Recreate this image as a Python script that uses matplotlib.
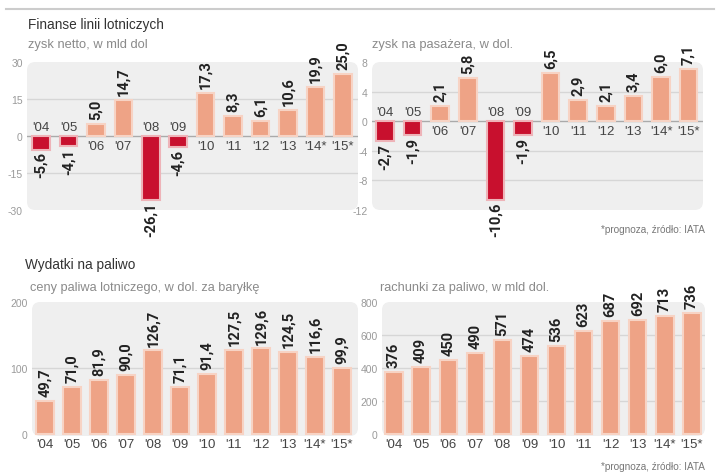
import matplotlib.pyplot as plt
from matplotlib.patches import FancyBboxPatch

# data
years = ["'04", "'05", "'06", "'07", "'08", "'09", "'10", "'11", "'12", "'13", "'14*", "'15*"]
net_profit = [-5.6, -4.1, 5.0, 14.7, -26.1, -4.6, 17.3, 8.3, 6.1, 10.6, 19.9, 25.0]
profit_per_pax = [-2.7, -1.9, 2.1, 5.8, -10.6, -1.9, 6.5, 2.9, 2.1, 3.4, 6.0, 7.1]
fuel_price = [49.7, 71.0, 81.9, 90.0, 126.7, 71.1, 91.4, 127.5, 129.6, 124.5, 116.6, 99.9]
fuel_bill = [376, 409, 450, 490, 571, 474, 536, 623, 687, 692, 713, 736]

# colours / fonts
POS = '#eea386'
POS_EDGE = '#f7d3c4'
NEG = '#c8102e'
NEG_EDGE = '#eeb3b8'
BG = '#efefef'
GRID = '#d6d6d6'
TXT = '#333333'
SUB = '#8a8a8a'
NUMFONT = ['Roboto', 'DejaVu Sans']
plt.rcParams['font.family'] = ['Liberation Sans', 'DejaVu Sans']

W, H = 720, 477
fig = plt.figure(figsize=(7.2, 4.77), dpi=100)


def fmt1(v):
    return f"{v:.1f}".replace('.', ',')


def panel(left, top, right, bottom, c0, step, vals, ylim, yticks, labfmt):
    # axes box in pixels: top/bottom match ylim max/min
    ax = fig.add_axes([left / W, 1 - bottom / H, (right - left) / W, (bottom - top) / H])
    ax.set_xlim((left - c0) / step, (right - c0) / step)
    ax.set_ylim(*ylim)
    ax.patch.set_visible(False)
    for s in ax.spines.values():
        s.set_visible(False)
    bg = FancyBboxPatch((0, 0), 1, 1, boxstyle="round,pad=0,rounding_size=0.025",
                        transform=ax.transAxes, facecolor=BG, edgecolor='none', zorder=0,
                        mutation_aspect=(right - left) / (bottom - top))
    ax.add_patch(bg)
    for t in yticks[1:-1]:
        ax.axhline(t, color=GRID if t != 0 else '#aaaaaa', lw=1, zorder=1)
    ax.set_yticks(yticks)
    ax.set_yticklabels([str(t) for t in yticks])
    ax.tick_params(axis='y', length=0, pad=3, labelsize=7.5, labelcolor='#9a9a9a')
    ax.set_xticks([])

    x = list(range(len(vals)))
    cols = [POS if v >= 0 else NEG for v in vals]
    edges = [POS_EDGE if v >= 0 else NEG_EDGE for v in vals]
    ax.bar(x, vals, width=0.64, color=cols, edgecolor=edges, linewidth=1.5, zorder=2)

    signed = ylim[0] < -1
    for i, v in enumerate(vals):
        txt = labfmt(v)
        if v >= 0:
            ax.annotate(txt, (i, v), xytext=(0, 3.5), textcoords='offset points', rotation=90,
                        ha='center', va='bottom', fontsize=10.5, fontweight='bold',
                        family=NUMFONT, color='#222222')
        else:
            ax.annotate(txt, (i, v), xytext=(0, -1), textcoords='offset points', rotation=90,
                        ha='center', va='top', fontsize=10.5, fontweight='bold',
                        family=NUMFONT, color='#222222')
        if signed:
            if v >= 0:
                ax.annotate(years[i], (i, 0), xytext=(0, -3), textcoords='offset points',
                            ha='center', va='top', fontsize=9.5, color='#444444')
            else:
                ax.annotate(years[i], (i, 0), xytext=(0, 2), textcoords='offset points',
                            ha='center', va='bottom', fontsize=9.5, color='#444444')
        else:
            ax.annotate(years[i], (i, 0), xytext=(0, -7), textcoords='offset points',
                        ha='center', va='top', fontsize=9.5, color='#444444')
    return ax


# top rule
fig.add_artist(plt.Line2D([6 / W, 714 / W], [1 - 10 / H, 1 - 10 / H], color='#cccccc', lw=1.5))

# titles
fig.text(28 / W, 1 - 25 / H, "Finanse linii lotniczych", fontsize=9.8, color=TXT, va='center')
fig.text(28 / W, 1 - 45 / H, "zysk netto, w mld dol", fontsize=9.3, color=SUB, va='center')
fig.text(372 / W, 1 - 45 / H, "zysk na pasażera, w dol.", fontsize=9.3, color=SUB, va='center')
fig.text(705 / W, 1 - 230 / H, "*prognoza, źródło: IATA", fontsize=7.2, color='#777777',
         ha='right', va='center')

fig.text(25 / W, 1 - 265 / H, "Wydatki na paliwo", fontsize=9.8, color=TXT, va='center')
fig.text(30 / W, 1 - 288 / H, "ceny paliwa lotniczego, w dol. za baryłkę", fontsize=9.2,
         color=SUB, va='center')
fig.text(380 / W, 1 - 288 / H, "rachunki za paliwo, w mld dol.", fontsize=9.2, color=SUB,
         va='center')
fig.text(705 / W, 1 - 467 / H, "*prognoza, źródło: IATA", fontsize=7.2, color='#777777',
         ha='right', va='center')

panel(27, 63, 358, 211, 41, 27.45, net_profit, (-30, 30), [-30, -15, 0, 15, 30], fmt1)
panel(372, 63, 703, 211, 385, 27.6, profit_per_pax, (-12, 8), [-12, -8, -4, 0, 4, 8], fmt1)
panel(32, 303, 358, 437, 45, 27, fuel_price, (-3, 200), [0, 100, 200], fmt1)
panel(382, 303, 705, 437, 394, 27.09, fuel_bill, (-12, 800), [0, 200, 400, 600, 800],
      lambda v: str(v))

fig.savefig('out.png', dpi=100, facecolor='white')
